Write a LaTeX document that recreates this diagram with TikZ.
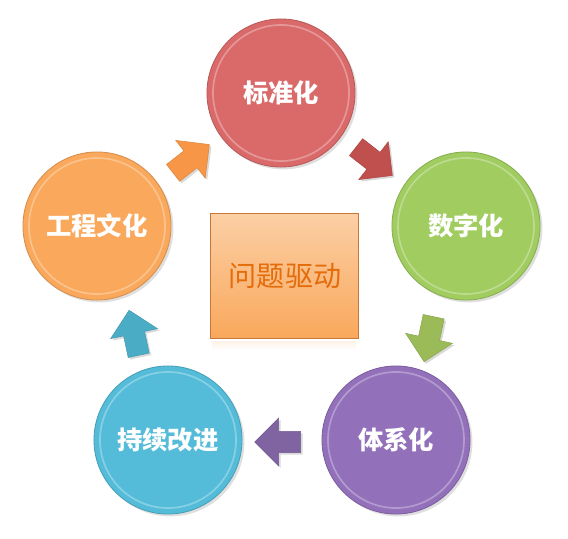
\documentclass[tikz,border=0pt]{standalone}
\usepackage{fontspec}
\newfontfamily\cjk{Noto Sans CJK SC}
\usetikzlibrary{shapes.arrows,shadows}

\definecolor{redA}{RGB}{218,106,106}
\definecolor{redB}{RGB}{192,80,77}
\definecolor{greenA}{RGB}{160,204,96}
\definecolor{greenB}{RGB}{155,187,89}
\definecolor{purpleA}{RGB}{146,112,186}
\definecolor{purpleB}{RGB}{128,100,162}
\definecolor{blueA}{RGB}{84,188,216}
\definecolor{blueB}{RGB}{75,172,198}
\definecolor{orangeA}{RGB}{249,168,92}
\definecolor{orangeB}{RGB}{247,150,70}
\definecolor{orangeT}{RGB}{228,108,10}

\begin{document}
\begin{tikzpicture}[x=0.025cm,y=-0.025cm,
    ball/.style={circle, minimum size=3.7cm, inner sep=0pt,
        draw=#1!85!black, line width=0.6pt, fill=#1,
        drop shadow={opacity=0.25,shadow xshift=0.6mm,shadow yshift=-0.6mm},
        text=white, font=\cjk\bfseries\fontsize{18}{21}\selectfont},
    rim/.style={draw=white, opacity=0.3, line width=1.2pt},
    blockarrow/.style={single arrow, fill=#1, draw=#1!90!black,
        inner sep=0.26cm, single arrow head extend=0.33cm,
        minimum height=1.15cm,
        drop shadow={opacity=0.3,shadow xshift=0.5mm,shadow yshift=-0.5mm}}]

    \useasboundingbox (0,0) rectangle (568,539);

    % five stages round the core
    \node [ball=redA]    (std)   at (281,93)  {标准化};
    \node [ball=greenA]  (digit) at (466,226) {数字化};
    \node [ball=purpleA] (sys)   at (396,440) {体系化};
    \node [ball=blueA]   (impr)  at (168,440) {持续改进};
    \node [ball=orangeA] (cult)  at (97,226)  {工程文化};

    % light bevel on each ball
    \draw [rim] (std.center)   circle [radius=68];
    \draw [rim] (digit.center) circle [radius=68];
    \draw [rim] (sys.center)   circle [radius=68];
    \draw [rim] (impr.center)  circle [radius=68];
    \draw [rim] (cult.center)  circle [radius=68];

    % core box
    \shade [top color=orangeA!55!white, bottom color=orangeA, draw=orangeB!80!black,
        line width=0.6pt] (210,213) rectangle (358,338);
    \shade [top color=orangeA!18!white, bottom color=white, opacity=0.8]
        (212,341) rectangle (356,350);
    \node [text=orangeT, font=\cjk\fontsize{20}{23}\selectfont] (core) at (285,276) {问题驱动};

    % arrows between the stages
    \node [blockarrow=redB,    rotate=-38] (a1) at (370,158) {};
    \node [blockarrow=greenB,  rotate=-102] (a2) at (430,334) {};
    \node [blockarrow=purpleB, rotate=180] (a3) at (283,442) {};
    \node [blockarrow=blueB,   rotate=102] (a4) at (135,338) {};
    \node [blockarrow=orangeB, rotate=38]  (a5) at (187,162) {};

\end{tikzpicture}
\end{document}
